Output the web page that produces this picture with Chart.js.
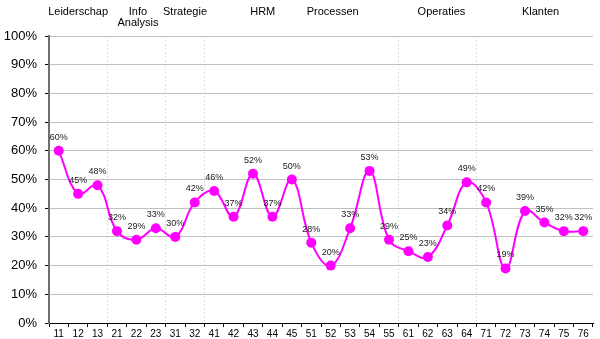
<!DOCTYPE html>
<html>
<head>
<meta charset="utf-8">
<script src="https://cdn.jsdelivr.net/npm/chart.js@4/dist/chart.umd.min.js"></script>
<style>
  html, body { margin: 0; padding: 0; background: #fff; }
  #wrap { width: 600px; height: 339px; position: relative; }
</style>
</head>
<body>
<div id="wrap"><canvas id="c" width="600" height="339"></canvas></div>
<script>
// Item codes along the x axis
const categories = ['11','12','13','21','22','23','31','32','41','42','43','44','45',
  '51','52','53','54','55','61','62','63','64','71','72','73','74','75','76'];

// Score per item, in percent
const scores = [60, 45, 48, 32, 29, 33, 30, 42, 46, 37, 52, 37, 50,
  28, 20, 33, 53, 29, 25, 23, 34, 49, 42, 19, 39, 35, 32, 32];

// Theme headings shown above the plot
const groupNames = [['Leiderschap'], ['Info', 'Analysis'], ['Strategie'], ['HRM'],
  ['Processen'], ['Operaties'], ['Klanten']];

// Category boundaries that get a dashed separator (index of first item after it)
const separators = [3, 6, 8, 18, 22];

const yTicks = [0, 10, 20, 30, 40, 50, 60, 70, 80, 90, 100];

const FONT = 'Arial, "Liberation Sans", sans-serif';

// Writes the value above each point and the theme headings above the plot
const annotate = {
  id: 'annotate',
  afterDatasetsDraw(chart, args, opts) {
    const ctx = chart.ctx;
    const meta = chart.getDatasetMeta(0);
    ctx.save();
    ctx.fillStyle = '#1a1a1a';
    ctx.font = '9px ' + FONT;
    ctx.textAlign = 'center';
    ctx.textBaseline = 'alphabetic';
    meta.data.forEach((pt, i) => {
      ctx.fillText(scores[i] + '%', pt.x, pt.y - 11);
    });
    const xs = chart.scales.x;
    ctx.fillStyle = '#000';
    ctx.font = '11px ' + FONT;
    ctx.textBaseline = 'top';
    groupNames.forEach((lines, g) => {
      const x = xs.getPixelForValue(opts.anchors[g]);
      lines.forEach((t, k) => ctx.fillText(t, x, 6 + k * 11));
    });
    ctx.restore();
  }
};

new Chart(document.getElementById('c'), {
  type: 'line',
  data: {
    labels: categories,
    datasets: [{
      data: scores,
      borderColor: '#ff00ff',
      backgroundColor: '#ff00ff',
      borderWidth: 2,
      pointRadius: 5,
      pointHoverRadius: 5,
      pointBorderWidth: 0,
      tension: 0.4,
      fill: false
    }]
  },
  options: {
    responsive: false,
    animation: false,
    layout: { padding: { top: 36, right: 7, left: 0, bottom: 0 } },
    plugins: {
      legend: { display: false },
      tooltip: { enabled: false },
      annotate: { anchors: [1.0, 4.08, 6.5, 10.5, 14.1, 19.7, 24.8] }
    },
    scales: {
      x: {
        type: 'category',
        offset: true,
        afterFit(s) { s.height = 16; },
        grid: {
          offset: true,
          display: true,
          drawOnChartArea: true,
          color: c => separators.includes(c.index) ? '#dedede' : 'rgba(0,0,0,0)',
          lineWidth: 1,
          tickLength: 4,
          tickColor: '#000',
          tickWidth: 1
        },
        border: { display: true, color: '#000', width: 1, dash: [2, 2] },
        ticks: {
          color: '#000',
          font: { family: FONT, size: 10 },
          padding: 1,
          maxRotation: 0,
          autoSkip: false
        }
      },
      y: {
        min: 0,
        max: 100,
        afterFit(s) { s.width = 49; },
        afterBuildTicks(s) { s.ticks = yTicks.map(v => ({ value: v })); },
        grid: {
          color: '#c0c0c0',
          lineWidth: 1,
          tickLength: 4,
          tickColor: '#000'
        },
        border: { display: true, color: '#6e6e6e', width: 2 },
        ticks: {
          color: '#000',
          font: { family: FONT, size: 13 },
          padding: 8,
          callback: v => v + '%'
        }
      }
    }
  },
  plugins: [annotate]
});
</script>
</body>
</html>
